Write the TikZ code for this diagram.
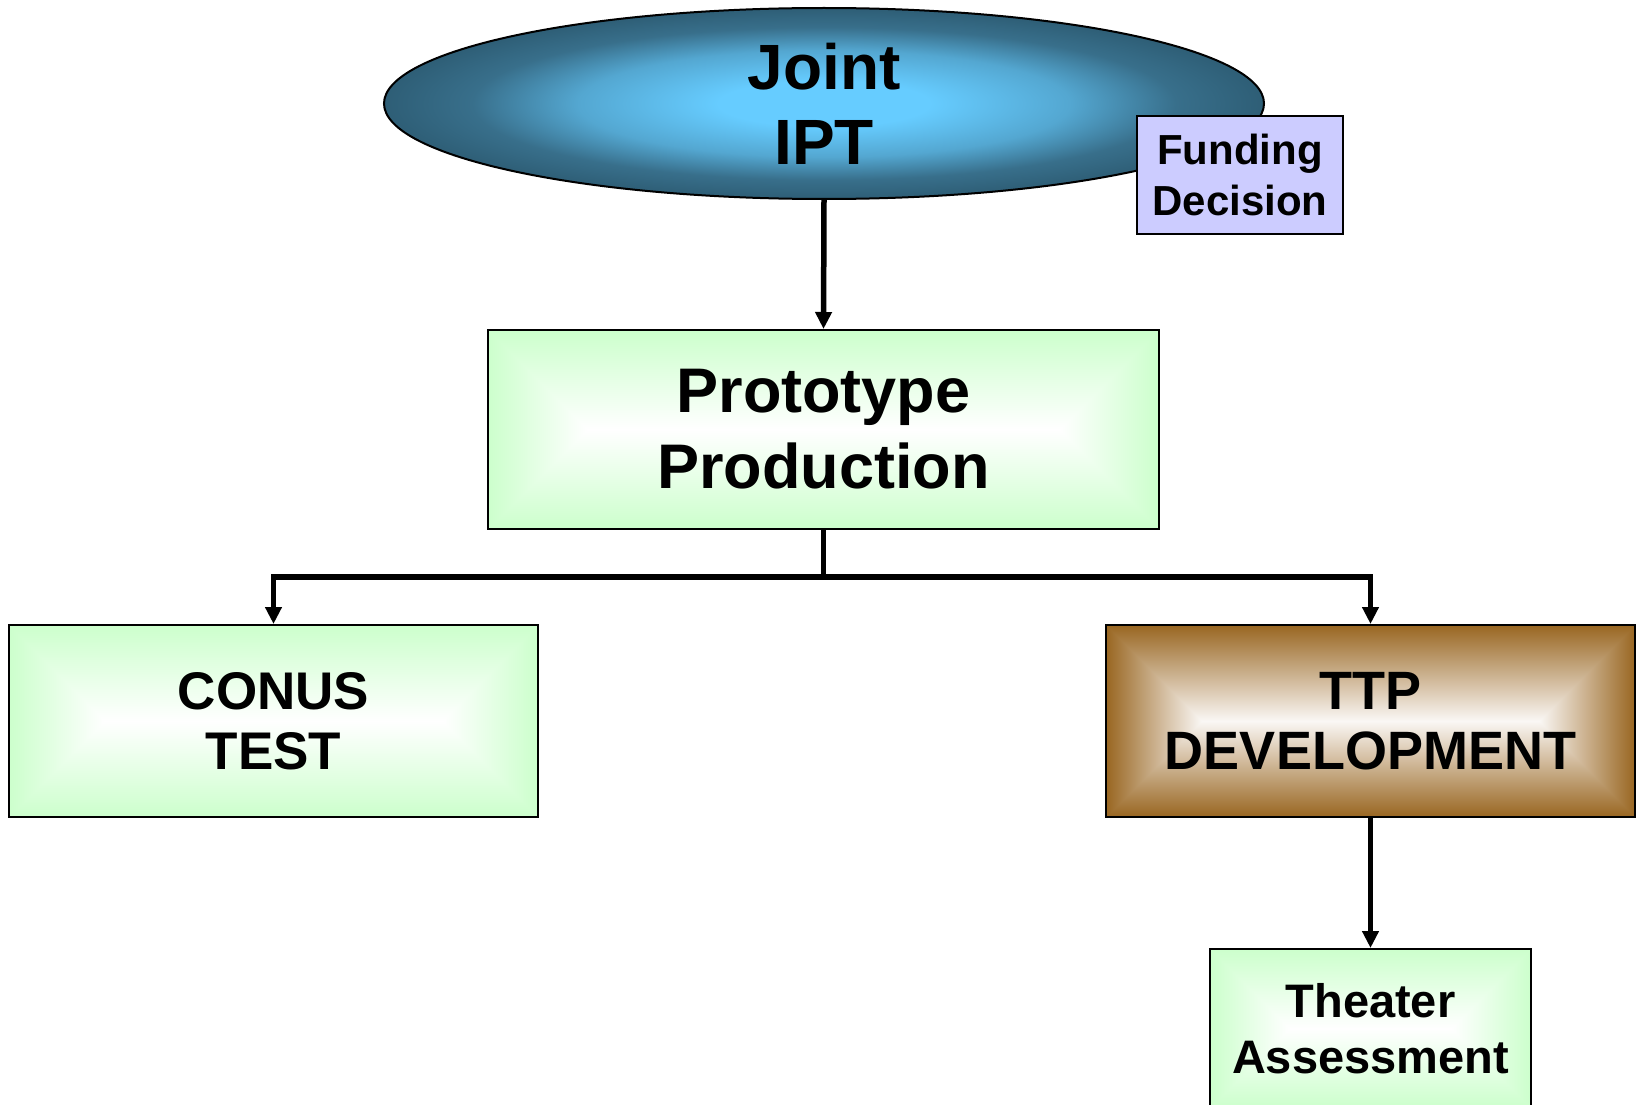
\documentclass[tikz,border=0pt]{standalone}
\usepackage{fontspec}
\setmainfont{Liberation Sans}
\usetikzlibrary{shapes.geometric,arrows.meta}

\definecolor{skyc}{HTML}{66CCFF}
\definecolor{tealc}{HTML}{386F8B}
\definecolor{tealdk}{HTML}{2E5E76}
\colorlet{skymid}{skyc!60!tealc}
\definecolor{lavc}{HTML}{CCCCFF}

\pgfdeclareradialshading{iptshade}{\pgfpoint{0bp}{0bp}}{color(0bp)=(skyc); color(6bp)=(skyc); color(14bp)=(skymid); color(20bp)=(tealc); color(25bp)=(tealdk); color(50bp)=(tealdk)}

% distance-to-edge ("from centre") gradients, domain 100bp square, box = inner 50bp square
\pgfdeclarefunctionalshading{protoshade}{\pgfpoint{0bp}{0bp}}{\pgfpoint{100bp}{100bp}}{}{
 50 sub abs 25 exch sub
 exch 50 sub abs 25 exch sub 3.37 mul
 2 copy sub abs 3 1 roll add exch sub 2 div
 25 div dup abs add 2 div
 dup 0.2 mul 0.8 add exch 1 exch 0.2 mul 0.8 add
}
\pgfdeclarefunctionalshading{conusshade}{\pgfpoint{0bp}{0bp}}{\pgfpoint{100bp}{100bp}}{}{
 50 sub abs 25 exch sub
 exch 50 sub abs 25 exch sub 2.76 mul
 2 copy sub abs 3 1 roll add exch sub 2 div
 25 div dup abs add 2 div
 dup 0.2 mul 0.8 add exch 1 exch 0.2 mul 0.8 add
}
\pgfdeclarefunctionalshading{theatershade}{\pgfpoint{0bp}{0bp}}{\pgfpoint{100bp}{100bp}}{}{
 50 sub abs 25 exch sub
 exch 50 sub abs 25 exch sub 2.01 mul
 2 copy sub abs 3 1 roll add exch sub 2 div
 25 div dup abs add 2 div
 dup 0.2 mul 0.8 add exch 1 exch 0.2 mul 0.8 add
}
\pgfdeclarefunctionalshading{ttpshade}{\pgfpoint{0bp}{0bp}}{\pgfpoint{100bp}{100bp}}{}{
 50 sub abs 25 exch sub
 exch 50 sub abs 25 exch sub 2.76 mul
 2 copy sub abs 3 1 roll add exch sub 2 div
 25 div dup abs add 2 div
 dup 0.38 mul 0.6 add exch dup 0.57 mul 0.4 add exch 0.83 mul 0.13 add
}

\tikzset{
  boxbase/.style={draw=black, line width=2pt, inner sep=0pt, align=center, text=black},
  gbox/.style={boxbase, shade},
  iptnode/.style={ellipse, draw=black, line width=2pt, shade, shading=iptshade,
    minimum width=880pt, minimum height=191pt, inner sep=0pt, align=center,
    font=\bfseries\fontsize{64}{75}\selectfont},
  fundnode/.style={boxbase, fill=lavc, minimum width=206pt, minimum height=118pt,
    font=\bfseries\fontsize{42}{51}\selectfont},
  conn/.style={line width=5.5pt, line join=miter, draw=black,
    -{Triangle[length=17pt,width=16pt]}},
}

\begin{document}
\begin{tikzpicture}[x=1pt,y=-1pt]
\clip (0,0) rectangle (1639,1105);
\fill[white] (0,0) rectangle (1639,1105);

\node[iptnode] (ipt) at (824,103.5) {Joint\\IPT};
\node[fundnode] (fund) at (1240,175) {Funding\\Decision};

\node[gbox, shading=protoshade, minimum width=671pt, minimum height=199pt,
      font=\bfseries\fontsize{63}{76}\selectfont] (proto) at (823.5,429.5) {Prototype\\Production};

\node[gbox, shading=conusshade, minimum width=529pt, minimum height=192pt,
      font=\bfseries\fontsize{53}{60}\selectfont] (conus) at (273.5,721) {CONUS\\TEST};

\node[gbox, shading=ttpshade, minimum width=529pt, minimum height=192pt,
      font=\bfseries\fontsize{54}{60}\selectfont] (ttp) at (1370.5,721) {TTP\\DEVELOPMENT};

\node[gbox, shading=theatershade, minimum width=321pt, minimum height=159pt,
      font=\bfseries\fontsize{47}{56}\selectfont] (theater) at (1370.5,1028.5) {Theater\\Assessment};

\coordinate (split) at (823.5,577);

\draw[conn] (ipt.south) -- (proto.north);
\draw[conn] (proto.south) -- (split) -| (conus.north);
\draw[conn] (split) -| (ttp.north);
\draw[conn] (ttp.south) -- (theater.north);
\end{tikzpicture}
\end{document}
